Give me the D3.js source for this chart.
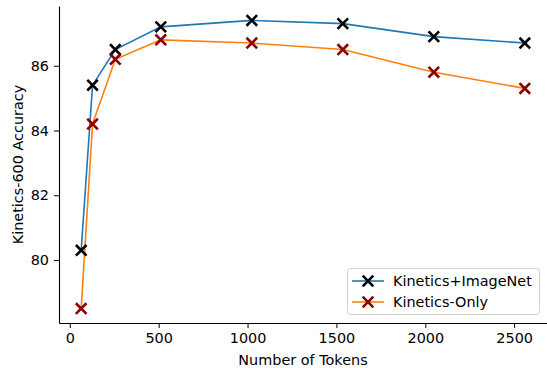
<!DOCTYPE html>
<html>
<head>
<meta charset="utf-8">
<script src="https://cdn.jsdelivr.net/npm/d3@7"></script>
<style>
  body { margin: 0; background: #fff; }
  text { font-family: "DejaVu Sans", sans-serif; fill: #000; }
</style>
</head>
<body>
<svg id="chart" width="547" height="368"></svg>
<script>
// values
const tokens = [64, 128, 256, 512, 1024, 1536, 2048, 2560];
const kineticsImageNet = [80.3, 85.4, 86.5, 87.2, 87.4, 87.3, 86.9, 86.7];
const kineticsOnly = [78.5, 84.2, 86.2, 86.8, 86.7, 86.5, 85.8, 85.3];
const seriesNames = ['Kinetics+ImageNet', 'Kinetics-Only'];
const xTicks = [0, 500, 1000, 1500, 2000, 2500];
const yTicks = [80, 82, 84, 86];

const series = [
  { name: seriesNames[0], values: kineticsImageNet, line: '#1f77b4', marker: '#000000' },
  { name: seriesNames[1], values: kineticsOnly, line: '#ff7f0e', marker: '#8b0000' }
];

const svg = d3.select('#chart');
const plotLeft = 59, plotRight = 547, plotTop = 6, plotBottom = 323;
const fontSize = '14.4px';

// matplotlib-style 5% margins
const xs = d3.extent(tokens);
const xPad = (xs[1] - xs[0]) * 0.05;
const allY = kineticsImageNet.concat(kineticsOnly);
const ys = d3.extent(allY);
const yPad = (ys[1] - ys[0]) * 0.05;

const x = d3.scaleLinear().domain([xs[0] - xPad, xs[1] + xPad]).range([plotLeft, plotRight]);
const y = d3.scaleLinear().domain([ys[0] - yPad, ys[1] + yPad]).range([plotBottom, plotTop]);

const g = svg.append('g');

// axes
const xAxis = g.append('g')
  .attr('transform', `translate(0,${plotBottom})`)
  .call(d3.axisBottom(x).tickValues(xTicks).tickFormat(d3.format('d'))
    .tickSize(5).tickPadding(5).tickSizeOuter(0));
const yAxis = g.append('g')
  .attr('transform', `translate(${plotLeft},0)`)
  .call(d3.axisLeft(y).tickValues(yTicks).tickFormat(d3.format('d'))
    .tickSize(5).tickPadding(5).tickSizeOuter(0));
[xAxis, yAxis].forEach(a => {
  a.selectAll('text').style('font-size', fontSize).style('font-family', '"DejaVu Sans", sans-serif').attr('fill', '#000');
  a.selectAll('line').attr('stroke', '#000').attr('stroke-width', 1);
  a.select('.domain').attr('stroke', '#000').attr('stroke-width', 1.1);
});

g.append('text')
  .attr('x', (plotLeft + plotRight) / 2)
  .attr('y', 364.5)
  .attr('text-anchor', 'middle')
  .style('font-size', fontSize)
  .text('Number of Tokens');

g.append('text')
  .attr('transform', `translate(23,${(plotTop + plotBottom) / 2}) rotate(-90)`)
  .attr('text-anchor', 'middle')
  .style('font-size', fontSize)
  .text('Kinetics-600 Accuracy');

const line = d3.line()
  .x((d, i) => x(tokens[i]))
  .y(d => y(d));

function cross(sel, cx, cy, color) {
  const r = 5.3;
  sel.append('path')
    .attr('d', `M${cx - r},${cy - r}L${cx + r},${cy + r}M${cx - r},${cy + r}L${cx + r},${cy - r}`)
    .attr('stroke', color)
    .attr('stroke-width', 2.6)
    .attr('fill', 'none');
}

series.forEach(s => {
  g.append('path')
    .datum(s.values)
    .attr('d', line)
    .attr('fill', 'none')
    .attr('stroke', s.line)
    .attr('stroke-width', 1.6);
});
series.forEach(s => {
  const mg = g.append('g');
  s.values.forEach((v, i) => cross(mg, x(tokens[i]), y(v), s.marker));
});

// legend
const lg = g.append('g');
lg.append('rect')
  .attr('x', 347.5).attr('y', 268.5)
  .attr('width', 192).attr('height', 46)
  .attr('rx', 3)
  .attr('fill', '#fff').attr('fill-opacity', 0.8)
  .attr('stroke', '#d0d0d0');
series.forEach((s, i) => {
  const cy = 281 + i * 21;
  lg.append('line')
    .attr('x1', 352).attr('x2', 384)
    .attr('y1', cy).attr('y2', cy)
    .attr('stroke', s.line).attr('stroke-width', 1.6);
  cross(lg, 368, cy, s.marker);
  lg.append('text')
    .attr('x', 393).attr('y', cy + 5.3)
    .style('font-size', fontSize)
    .text(s.name);
});
</script>
</body>
</html>
